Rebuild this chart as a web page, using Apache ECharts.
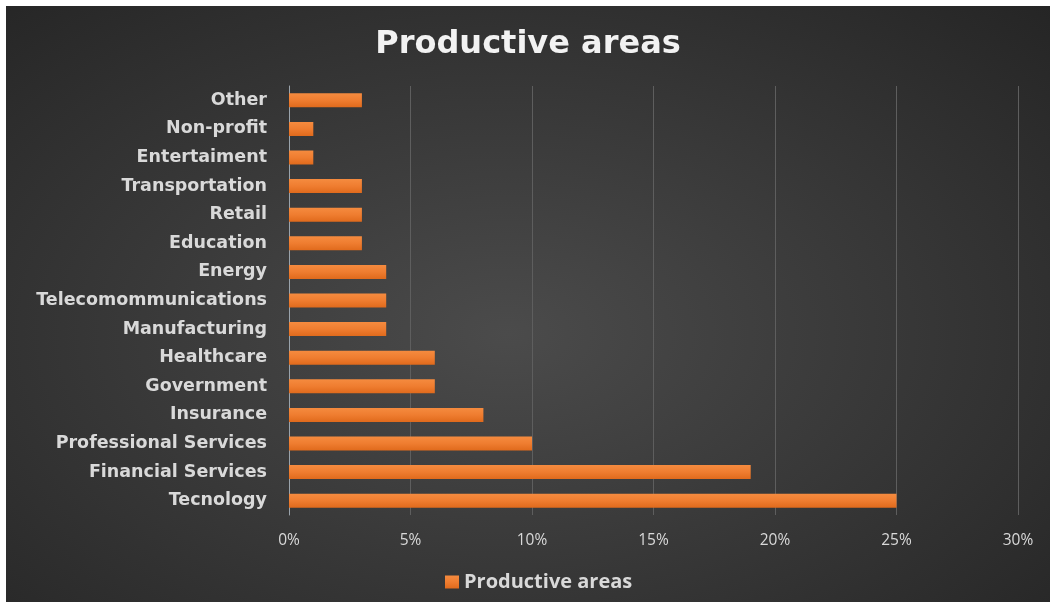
<!DOCTYPE html>
<html>
<head>
<meta charset="utf-8">
<script src="https://cdn.jsdelivr.net/npm/echarts@6/dist/echarts.min.js"></script>
<style>
    html, body { margin: 0; padding: 0; background: #ffffff; }
    #chart {
        position: absolute;
        left: 6px;
        top: 6px;
        width: 1044px;
        height: 596px;
        background: radial-gradient(ellipse at 48% 55%, #4b4b4b 0%, #3a3a3a 45%, #252525 100%);
    }
</style>
</head>
<body>
<div id="chart"></div>
<script>
// categories from top to bottom, values in percent
var categories = ['Other', 'Non-profit', 'Entertaiment', 'Transportation', 'Retail', 'Education',
    'Energy', 'Telecomommunications', 'Manufacturing', 'Healthcare', 'Government', 'Insurance',
    'Professional Services', 'Financial Services', 'Tecnology'];
var shares = [3, 1, 1, 3, 3, 3, 4, 4, 4, 6, 6, 8, 10, 19, 25];
var seriesName = 'Productive areas';

var myChart = echarts.init(document.getElementById('chart'));

var option = {
    backgroundColor: 'transparent',
    title : {
        text: 'Productive areas',
        left: 'center',
        top: 18,
        textStyle: {
            color: '#f2f2f2',
            fontFamily: 'DejaVu Sans',
            fontWeight: 'bold',
            fontSize: 32
        }
    },
    legend: {
        data: [seriesName],
        left: 434,
        top: 561,
        itemWidth: 14,
        itemHeight: 13,
        itemGap: 8,
        icon: 'rect',
        textStyle: {
            color: '#d9d9d9',
            fontFamily: 'Open Sans',
            fontWeight: 'bold',
            fontSize: 20
        }
    },
    grid: {
        left: 283,
        right: 32,
        top: 80,
        bottom: 87
    },
    xAxis : {
        type : 'value',
        min: 0,
        max: 30,
        interval: 5,
        axisLine: {show: false},
        axisTick: {show: false},
        axisLabel: {
            formatter: '{value}%',
            color: '#d9d9d9',
            fontFamily: 'Open Sans',
            fontSize: 15.5,
            margin: 18
        },
        splitLine: {
            lineStyle: {color: '#5e5e5e', width: 1}
        }
    },
    yAxis : {
        type : 'category',
        inverse: true,
        data : categories,
        axisLine: {
            show: true,
            lineStyle: {color: '#9aa3ab', width: 1}
        },
        axisTick: {show: false},
        axisLabel: {
            color: '#d9d9d9',
            fontFamily: 'DejaVu Sans',
            fontWeight: 'bold',
            fontSize: 17.5,
            margin: 22
        }
    },
    series : [
        {
            name: seriesName,
            type: 'bar',
            barWidth: '49%',
            data: shares,
            itemStyle: {
                color: new echarts.graphic.LinearGradient(0, 0, 0, 1, [
                    {offset: 0, color: '#f58b3f'},
                    {offset: 0.5, color: '#ef7d30'},
                    {offset: 1, color: '#e06a1c'}
                ]),
                shadowColor: 'rgba(0, 0, 0, 0.65)',
                shadowBlur: 4,
                shadowOffsetX: 2,
                shadowOffsetY: 2
            }
        }
    ]
};
myChart.setOption(option);
</script>
</body>
</html>
